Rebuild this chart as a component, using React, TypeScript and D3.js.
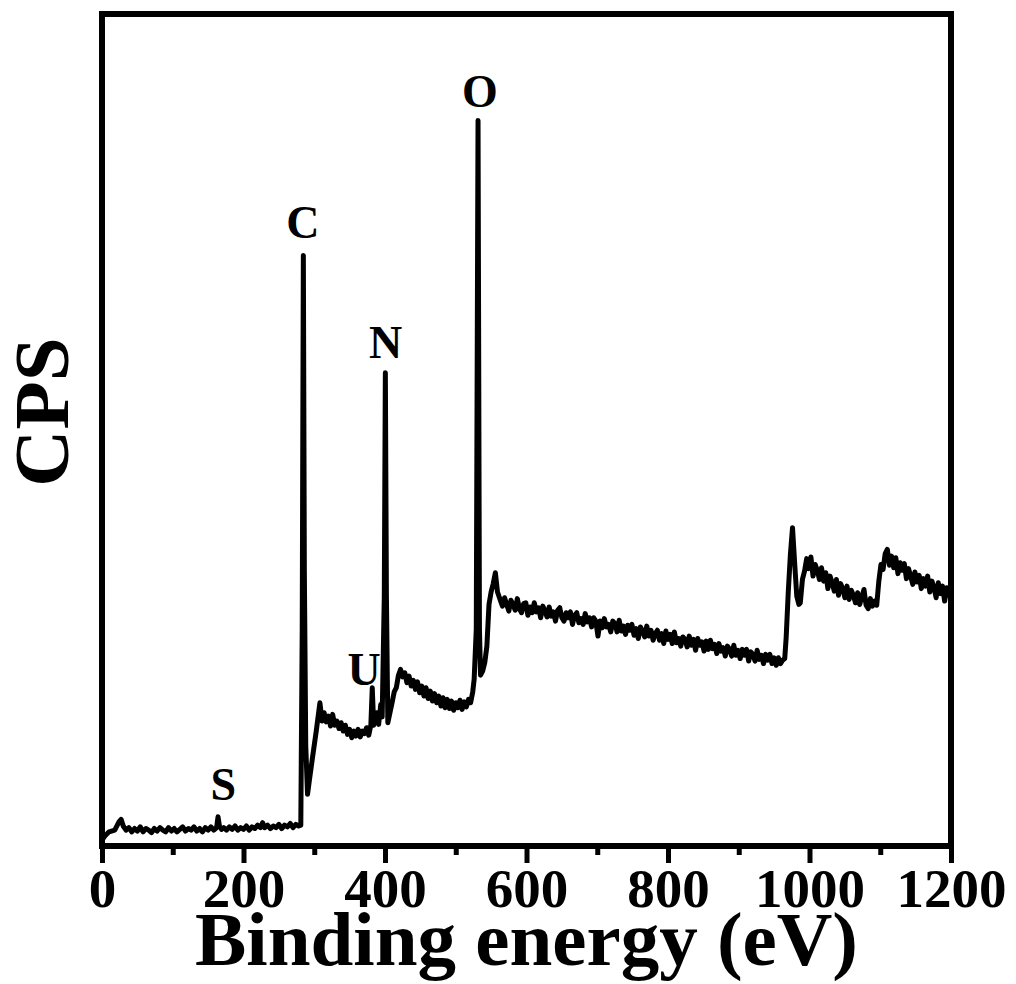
import React, { useEffect, useRef } from "react";
import * as d3 from "d3";

// XPS survey spectrum: [binding energy (eV), counts (arb. units)]
const spectrum: [number, number][] = [
  [0, 7], [4, 12], [10, 17], [18, 19], [24, 29], [27, 32], [30, 24], [34, 19], [38, 22], [42, 17],
  [46, 21], [50, 18], [54, 23], [58, 17], [62, 21], [66, 19], [70, 16], [74, 21], [78, 18], [82, 22],
  [86, 19], [90, 17], [94, 22], [98, 18], [102, 21], [106, 17], [110, 20], [114, 23], [118, 18], [122, 21],
  [126, 19], [130, 23], [134, 18], [138, 21], [142, 17], [146, 22], [150, 19], [154, 23], [158, 19], [162, 22],
  [164, 35], [166, 24], [169, 20], [172, 22], [176, 19], [180, 23], [184, 20], [188, 24], [192, 19], [196, 22],
  [200, 20], [204, 24], [208, 19], [212, 23], [216, 21], [220, 25], [224, 22], [227, 28], [230, 22], [234, 25],
  [238, 21], [242, 24], [246, 22], [250, 26], [254, 21], [258, 25], [262, 23], [266, 27], [270, 22], [274, 26],
  [278, 24], [281, 25], [283, 260], [284.6, 709], [286, 330], [288, 120], [290.5, 62], [293, 78], [297, 103], [303, 139],
  [308, 172], [311, 150], [314, 160], [317, 149], [320, 156], [323, 144], [326, 158], [329, 145], [332, 150], [335, 141],
  [338, 148], [341, 138], [344, 145], [347, 134], [350, 140], [353, 130], [356, 138], [359, 132], [362, 140], [365, 131],
  [368, 138], [371, 135], [374, 142], [377, 133], [380, 145], [382, 190], [384, 145], [386, 150], [388, 160], [391, 146],
  [394, 170], [396, 155], [399, 300], [400.5, 568], [402, 300], [404, 148], [407, 160], [410, 172], [413, 185], [416, 190],
  [419, 205], [422, 212], [425, 203], [428, 208], [431, 196], [434, 204], [437, 192], [440, 199], [443, 188], [446, 197],
  [449, 184], [452, 192], [455, 180], [458, 190], [461, 177], [464, 186], [467, 174], [470, 183], [473, 172], [476, 180],
  [479, 168], [482, 178], [485, 166], [488, 176], [491, 165], [494, 174], [497, 163], [500, 172], [503, 166], [506, 175],
  [509, 164], [512, 173], [515, 167], [518, 176], [521, 172], [524, 185], [526, 200], [529, 260], [531.5, 871], [533.5, 260],
  [535, 205], [538, 210], [541, 220], [544, 240], [547, 290], [550, 305], [553, 315], [556, 328], [559, 305], [563, 295],
  [566, 288], [569, 298], [572, 290], [575, 282], [578, 295], [581, 290], [584, 283], [587, 297], [590, 285], [593, 280],
  [596, 291], [599, 292], [602, 277], [605, 287], [608, 280], [611, 292], [614, 281], [617, 286], [620, 274], [623, 288],
  [626, 282], [629, 275], [632, 287], [635, 276], [638, 281], [641, 270], [644, 283], [647, 286], [650, 274], [653, 270],
  [656, 280], [659, 274], [662, 281], [665, 266], [668, 277], [671, 280], [674, 268], [677, 273], [680, 266], [683, 279],
  [686, 269], [689, 274], [692, 263], [695, 274], [698, 270], [701, 252], [704, 270], [707, 262], [710, 273], [713, 263],
  [716, 266], [719, 257], [722, 270], [725, 267], [728, 257], [731, 271], [734, 258], [737, 264], [740, 254], [743, 265],
  [746, 259], [749, 266], [752, 253], [755, 261], [758, 249], [761, 263], [764, 258], [767, 251], [770, 264], [773, 252],
  [776, 259], [779, 247], [782, 255], [785, 259], [788, 247], [791, 255], [794, 243], [797, 258], [800, 248], [803, 254],
  [806, 243], [809, 257], [812, 244], [815, 249], [818, 240], [821, 251], [824, 248], [827, 239], [830, 252], [833, 241],
  [836, 248], [839, 235], [842, 249], [845, 241], [848, 245], [851, 234], [854, 246], [857, 236], [860, 247], [863, 237],
  [866, 242], [869, 231], [872, 243], [875, 234], [878, 238], [881, 228], [884, 240], [887, 236], [890, 228], [893, 241],
  [896, 229], [899, 235], [902, 225], [905, 236], [908, 229], [911, 236], [914, 222], [917, 233], [920, 230], [923, 222],
  [926, 235], [929, 224], [932, 229], [935, 219], [938, 230], [941, 223], [944, 230], [947, 219], [950, 226], [953, 217],
  [956, 226], [959, 219], [962, 223], [965, 225], [967, 250], [970, 305], [973, 350], [976, 382], [979, 340], [982, 300],
  [985, 290], [987, 292], [990, 320], [993, 330], [996, 345], [999, 333], [1002, 347], [1005, 324], [1008, 338], [1011, 331],
  [1014, 320], [1017, 334], [1020, 318], [1023, 328], [1026, 309], [1029, 324], [1032, 316], [1035, 306], [1038, 320], [1041, 301],
  [1044, 315], [1047, 309], [1050, 298], [1053, 312], [1056, 296], [1059, 307], [1062, 301], [1065, 292], [1068, 304], [1071, 290],
  [1074, 299], [1077, 308], [1080, 289], [1083, 285], [1086, 297], [1089, 288], [1092, 294], [1095, 289], [1098, 318], [1101, 338],
  [1104, 332], [1107, 351], [1110, 356], [1113, 337], [1116, 348], [1119, 334], [1122, 346], [1125, 327], [1128, 340], [1131, 331],
  [1134, 339], [1137, 321], [1140, 333], [1143, 324], [1146, 314], [1149, 329], [1152, 317], [1155, 325], [1158, 309], [1161, 321],
  [1164, 312], [1167, 324], [1170, 305], [1173, 318], [1176, 310], [1179, 298], [1182, 316], [1185, 303], [1188, 312], [1191, 294],
  [1194, 310], [1197, 301], [1200, 308],
];

// Element labels placed above their photoelectron lines (energy, counts level)
const peakLabels = ["S", "C", "U", "N", "O"];
const peakLabelEnergy = [171.5, 284, 370.5, 401, 534];
const peakLabelLevel = [55, 730, 193, 586, 887];

const majorTicks = [0, 200, 400, 600, 800, 1000, 1200];
const minorTicks = [100, 300, 500, 700, 900, 1100];

const xTitle = "Binding energy (eV)";
const yTitle = "CPS";

const W = 1016;
const H = 984;
const left = 102;
const right = 951;
const top = 14;
const bottom = 846;
const FONT = "'Liberation Serif', 'Times New Roman', serif";

export default function App() {
  const axisRef = useRef<SVGGElement>(null);
  const minorRef = useRef<SVGGElement>(null);

  const x = d3.scaleLinear().domain([0, 1200]).range([left, right]);
  const y = d3.scaleLinear().domain([0, 1000]).range([bottom, bottom - 833]);

  const line = d3
    .line<[number, number]>()
    .x((d) => x(d[0]))
    .y((d) => y(d[1]));

  useEffect(() => {
    if (axisRef.current) {
      const g = d3.select(axisRef.current);
      g.call(
        d3
          .axisBottom(x)
          .tickValues(majorTicks)
          .tickSize(17)
          .tickPadding(6)
          .tickFormat((d) => String(d))
      );
      g.select(".domain").remove();
      g.selectAll(".tick line").attr("stroke", "#000").attr("stroke-width", 5);
      g.selectAll(".tick text")
        .attr("fill", "#000")
        .attr("font-family", FONT)
        .attr("font-weight", "bold")
        .attr("font-size", 55)
        .attr("dy", null)
        .attr("y", 61);
    }
    if (minorRef.current) {
      const g = d3.select(minorRef.current);
      g.call(d3.axisBottom(x).tickValues(minorTicks).tickSize(9).tickFormat(() => ""));
      g.select(".domain").remove();
      g.selectAll(".tick line").attr("stroke", "#000").attr("stroke-width", 5);
    }
  }, []);

  return (
    <svg
      width={W}
      height={H}
      viewBox={`0 0 ${W} ${H}`}
      style={{ position: "absolute", left: 0, top: 0, background: "#fff" }}
    >
      <rect x={0} y={0} width={W} height={H} fill="#fff" />
      <g ref={axisRef} transform={`translate(0,${bottom})`} />
      <g ref={minorRef} transform={`translate(0,${bottom})`} />
      <path
        d={line(spectrum) || ""}
        fill="none"
        stroke="#000"
        strokeWidth={5}
        strokeLinejoin="round"
        strokeLinecap="round"
      />
      <rect
        x={left}
        y={top}
        width={right - left}
        height={bottom - top}
        fill="none"
        stroke="#000"
        strokeWidth={6}
      />
      {peakLabels.map((t, i) => (
        <text
          key={t}
          x={x(peakLabelEnergy[i])}
          y={y(peakLabelLevel[i])}
          textAnchor="middle"
          fontFamily={FONT}
          fontWeight="bold"
          fontSize={46}
          fill="#000"
        >
          {t}
        </text>
      ))}
      <text
        x={(left + right) / 2}
        y={965}
        textAnchor="middle"
        fontFamily={FONT}
        fontWeight="bold"
        fontSize={77}
        fill="#000"
      >
        {xTitle}
      </text>
      <text
        transform={`translate(68,412) rotate(-90)`}
        textAnchor="middle"
        fontFamily={FONT}
        fontWeight="bold"
        fontSize={79}
        fill="#000"
      >
        {yTitle}
      </text>
    </svg>
  );
}
